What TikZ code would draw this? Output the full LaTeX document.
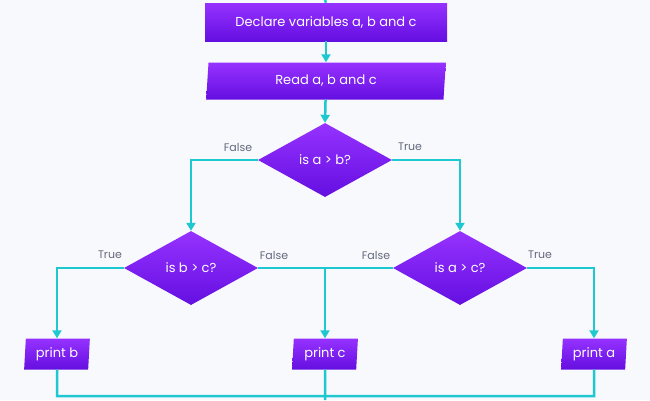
\documentclass[tikz,border=0pt]{standalone}
\usepackage{fontspec}
\setmainfont{Poppins}
\usetikzlibrary{shapes.geometric,arrows.meta}
\definecolor{bg}{RGB}{248,249,252}
\definecolor{ln}{RGB}{30,200,208}
\definecolor{pt}{RGB}{150,50,255}
\definecolor{pb}{RGB}{100,15,225}
\definecolor{lab}{RGB}{100,105,125}
\tikzset{
  x=1pt,y=-1pt,
  base/.style={top color=pt,bottom color=pb,draw=none,text=white,font=\fontsize{13}{15}\selectfont,inner sep=0pt},
  rectbox/.style={base,rectangle,minimum width=242pt,minimum height=38pt},
  iobox/.style={base,trapezium,trapezium left angle=85,trapezium right angle=95,trapezium stretches=true},
  decbox/.style={base,diamond,minimum width=134pt,minimum height=74pt,aspect=1.8},
  conn/.style={draw=ln,line width=2.5pt},
  arr/.style={conn,-{Triangle[length=8pt,width=9pt]}},
  lbl/.style={text=lab,font=\fontsize{11}{13}\selectfont}
}
\begin{document}
\begin{tikzpicture}
\fill[bg] (0,0) rectangle (650,400);
\useasboundingbox (0,0) rectangle (650,400);
\coordinate (top) at (325,0);
\node[rectbox] (decl) at (326,22) {Declare variables a, b and c};
\node[iobox,minimum width=240pt,minimum height=37pt] (read) at (326,81) {Read a, b and c};
\node[decbox] (d1) at (325,160) {is a > b?};
\node[decbox] (d2) at (191,268) {is b > c?};
\node[decbox] (d3) at (460,268) {is a > c?};
\node[iobox,minimum width=66pt,minimum height=31pt] (pb) at (57,354) {print b};
\node[iobox,minimum width=66pt,minimum height=31pt] (pc) at (325,354) {print c};
\node[iobox,minimum width=66pt,minimum height=31pt] (pa) at (594,354) {print a};
\coordinate (bot) at (325,400);
\path[conn] (top) -- (decl.north);
\path[arr] (decl) -- (read);
\path[arr] (read) -- (d1.north);
\path[arr] (d1.west) -| (d2.north);
\path[arr] (d1.east) -| (d3.north);
\path[arr] (d2.west) -| (pb.north);
\path[arr] (d3.east) -| (pa.north);
\path[conn] (d2.east) -- (d3.west);
\path[arr] (pc.north |- d2.east) -- (pc.north);
\path[conn] (pb.south) |- (594,396) -- (pa.south);
\path[conn] (pc.south) -- (bot);
\node[lbl] (l1) at (238,147) {False};
\node[lbl] (l2) at (410,147) {True};
\node[lbl] (l3) at (110,255) {True};
\node[lbl] (l4) at (274,255) {False};
\node[lbl] (l5) at (376,255) {False};
\node[lbl] (l6) at (540,255) {True};
\end{tikzpicture}
\end{document}
